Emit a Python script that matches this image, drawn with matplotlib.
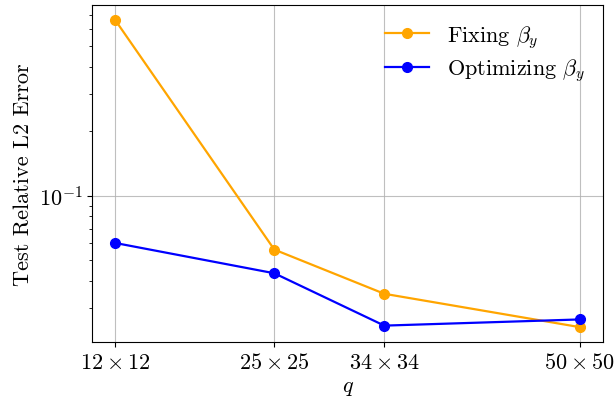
import matplotlib

matplotlib.use("Agg")
import matplotlib.pyplot as plt
from matplotlib.ticker import NullFormatter

# Computer Modern look without a TeX install
plt.rcParams["font.family"] = "serif"
plt.rcParams["font.serif"] = ["cmr10"]
plt.rcParams["mathtext.fontset"] = "cm"
plt.rcParams["axes.formatter.use_mathtext"] = True
plt.rcParams["font.size"] = 16

q_sizes = [12, 25, 34, 50]
q_labels = [r"$12 \times 12$", r"$25 \times 25$", r"$34 \times 34$", r"$50 \times 50$"]
err_fixing = [0.660, 0.0560, 0.0348, 0.0243]
err_optimizing = [0.0601, 0.0434, 0.0247, 0.0264]

fig, ax = plt.subplots(figsize=(6.15, 4.06), dpi=100)
fig.subplots_adjust(left=0.150, right=0.9805, bottom=0.154, top=0.985)

ax.plot(q_sizes, err_fixing, "o-", color="orange", lw=1.6, ms=7, label=r"Fixing $\beta_y$")
ax.plot(q_sizes, err_optimizing, "o-", color="blue", lw=1.6, ms=7, label=r"Optimizing $\beta_y$")

ax.set_yscale("log")
ax.yaxis.set_minor_formatter(NullFormatter())
ax.set_xticks(q_sizes)
ax.set_xticklabels(q_labels)
ax.set_xlabel(r"$q$")
ax.set_ylabel("Test Relative L2 Error")
ax.grid(True, which="major", color="#b0b0b0", lw=0.8, alpha=0.8)
ax.legend(loc="upper right", frameon=False, labelspacing=0.3, borderaxespad=0.4)

fig.savefig("out.png", dpi=100)
